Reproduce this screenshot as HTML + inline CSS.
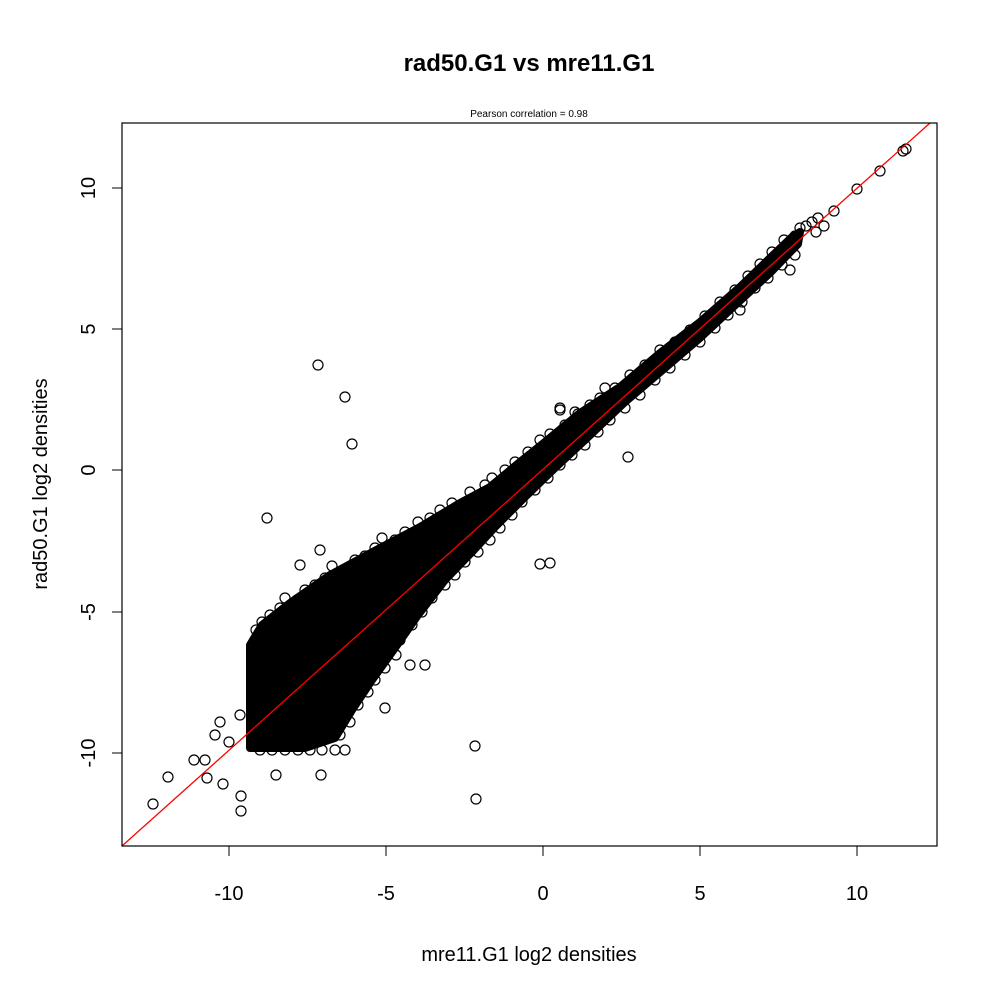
<!DOCTYPE html>
<html><head><meta charset="utf-8"><style>
html,body{margin:0;padding:0;background:#fff;}
svg{display:block;font-family:"Liberation Sans",sans-serif;}
</style></head><body>
<svg width="1000" height="1000" xmlns="http://www.w3.org/2000/svg">
<rect width="1000" height="1000" fill="#fff"/>
<text x="529" y="71" text-anchor="middle" font-size="24" font-weight="bold">rad50.G1 vs mre11.G1</text>
<text x="529" y="117" text-anchor="middle" font-size="10">Pearson correlation =  0.98</text>
<defs><clipPath id="c"><rect x="122" y="123" width="815" height="723"/></clipPath></defs>
<g clip-path="url(#c)">
<polygon fill="#000" stroke="#000" stroke-width="8" stroke-linejoin="round" points="250,645 262,625 290,603 330,575 380,548 420,527 460,503 490,487 520,462 545,442 580,413 620,387 660,353 700,322 740,287 770,258 792,237 800,232 798,244 770,273 730,310 700,338 665,368 625,402 585,440 555,468 525,497 495,527 472,552 445,580 418,615 395,648 372,680 352,710 335,738 305,748 270,748 250,748"/>
<g fill="none" stroke="#000" stroke-width="1.2">
<circle cx="255" cy="640" r="5"/><circle cx="256" cy="630" r="5"/><circle cx="262" cy="622" r="5"/><circle cx="270" cy="615" r="5"/><circle cx="280" cy="608" r="5"/><circle cx="285" cy="598" r="5"/><circle cx="297" cy="600" r="5"/><circle cx="305" cy="590" r="5"/><circle cx="315" cy="585" r="5"/><circle cx="325" cy="578" r="5"/><circle cx="332" cy="566" r="5"/><circle cx="345" cy="570" r="5"/><circle cx="355" cy="560" r="5"/><circle cx="365" cy="556" r="5"/><circle cx="375" cy="548" r="5"/><circle cx="382" cy="538" r="5"/><circle cx="395" cy="540" r="5"/><circle cx="405" cy="532" r="5"/><circle cx="418" cy="522" r="5"/><circle cx="430" cy="518" r="5"/><circle cx="440" cy="510" r="5"/><circle cx="452" cy="503" r="5"/><circle cx="463" cy="505" r="5"/><circle cx="470" cy="492" r="5"/><circle cx="485" cy="485" r="5"/><circle cx="492" cy="478" r="5"/><circle cx="505" cy="470" r="5"/><circle cx="515" cy="462" r="5"/><circle cx="528" cy="452" r="5"/><circle cx="540" cy="440" r="5"/><circle cx="550" cy="434" r="5"/><circle cx="560" cy="410" r="5"/><circle cx="565" cy="425" r="5"/><circle cx="578" cy="414" r="5"/><circle cx="590" cy="405" r="5"/><circle cx="600" cy="398" r="5"/><circle cx="605" cy="388" r="5"/><circle cx="615" cy="388" r="5"/><circle cx="630" cy="375" r="5"/><circle cx="645" cy="365" r="5"/><circle cx="660" cy="350" r="5"/><circle cx="675" cy="342" r="5"/><circle cx="690" cy="330" r="5"/><circle cx="705" cy="316" r="5"/><circle cx="720" cy="302" r="5"/><circle cx="735" cy="290" r="5"/><circle cx="748" cy="276" r="5"/><circle cx="760" cy="264" r="5"/><circle cx="772" cy="252" r="5"/><circle cx="784" cy="240" r="5"/><circle cx="795" cy="236" r="5"/>
<circle cx="252" cy="655" r="5"/><circle cx="252" cy="670" r="5"/><circle cx="252" cy="685" r="5"/><circle cx="252" cy="700" r="5"/><circle cx="252" cy="715" r="5"/><circle cx="252" cy="730" r="5"/><circle cx="252" cy="745" r="5"/>
<circle cx="260" cy="750" r="5"/><circle cx="272" cy="750" r="5"/><circle cx="285" cy="750" r="5"/><circle cx="298" cy="750" r="5"/><circle cx="310" cy="750" r="5"/><circle cx="322" cy="750" r="5"/><circle cx="335" cy="750" r="5"/><circle cx="345" cy="750" r="5"/><circle cx="340" cy="735" r="5"/><circle cx="350" cy="722" r="5"/><circle cx="358" cy="705" r="5"/><circle cx="368" cy="692" r="5"/><circle cx="375" cy="680" r="5"/><circle cx="385" cy="668" r="5"/><circle cx="396" cy="655" r="5"/><circle cx="400" cy="640" r="5"/><circle cx="412" cy="625" r="5"/><circle cx="422" cy="612" r="5"/><circle cx="432" cy="598" r="5"/><circle cx="445" cy="585" r="5"/><circle cx="455" cy="575" r="5"/><circle cx="465" cy="562" r="5"/><circle cx="478" cy="552" r="5"/><circle cx="490" cy="540" r="5"/><circle cx="500" cy="528" r="5"/><circle cx="512" cy="515" r="5"/><circle cx="522" cy="502" r="5"/><circle cx="535" cy="490" r="5"/><circle cx="548" cy="478" r="5"/><circle cx="560" cy="465" r="5"/><circle cx="572" cy="455" r="5"/><circle cx="585" cy="445" r="5"/><circle cx="598" cy="432" r="5"/><circle cx="610" cy="420" r="5"/><circle cx="625" cy="408" r="5"/><circle cx="640" cy="395" r="5"/><circle cx="655" cy="380" r="5"/><circle cx="670" cy="368" r="5"/><circle cx="685" cy="355" r="5"/><circle cx="700" cy="342" r="5"/><circle cx="715" cy="328" r="5"/><circle cx="728" cy="315" r="5"/><circle cx="742" cy="302" r="5"/><circle cx="755" cy="288" r="5"/><circle cx="768" cy="278" r="5"/><circle cx="782" cy="265" r="5"/><circle cx="795" cy="255" r="5"/>
<circle cx="800" cy="228" r="5"/><circle cx="806" cy="226" r="5"/><circle cx="812" cy="222" r="5"/><circle cx="818" cy="218" r="5"/><circle cx="824" cy="226" r="5"/><circle cx="816" cy="232" r="5"/>
<circle cx="318" cy="365" r="5"/><circle cx="345" cy="397" r="5"/><circle cx="352" cy="444" r="5"/><circle cx="267" cy="518" r="5"/><circle cx="475" cy="746" r="5"/><circle cx="476" cy="799" r="5"/><circle cx="153" cy="804" r="5"/><circle cx="168" cy="777" r="5"/><circle cx="241" cy="811" r="5"/><circle cx="241" cy="796" r="5"/><circle cx="223" cy="784" r="5"/><circle cx="207" cy="778" r="5"/><circle cx="194" cy="760" r="5"/><circle cx="205" cy="760" r="5"/><circle cx="220" cy="722" r="5"/><circle cx="229" cy="742" r="5"/><circle cx="215" cy="735" r="5"/><circle cx="240" cy="715" r="5"/><circle cx="276" cy="775" r="5"/><circle cx="321" cy="775" r="5"/><circle cx="540" cy="564" r="5"/><circle cx="550" cy="563" r="5"/><circle cx="906" cy="149" r="5"/><circle cx="903" cy="151" r="5"/><circle cx="880" cy="171" r="5"/><circle cx="857" cy="189" r="5"/><circle cx="834" cy="211" r="5"/><circle cx="560" cy="408" r="5"/><circle cx="628" cy="457" r="5"/><circle cx="410" cy="665" r="5"/><circle cx="425" cy="665" r="5"/><circle cx="385" cy="708" r="5"/><circle cx="300" cy="565" r="5"/><circle cx="320" cy="550" r="5"/><circle cx="380" cy="552" r="5"/><circle cx="575" cy="412" r="5"/><circle cx="790" cy="270" r="5"/><circle cx="740" cy="310" r="5"/>
</g>
</g>
<line x1="122" y1="846" x2="930" y2="123" stroke="#f00" stroke-width="1.3" clip-path="url(#c)"/>
<rect x="122" y="123" width="815" height="723" fill="none" stroke="#000" stroke-width="1.2"/>
<g stroke="#000" stroke-width="1">
<line x1="229" y1="846" x2="857" y2="846"/>
<line x1="229" y1="846" x2="229" y2="856"/><line x1="386" y1="846" x2="386" y2="856"/>
<line x1="543" y1="846" x2="543" y2="856"/><line x1="700" y1="846" x2="700" y2="856"/>
<line x1="857" y1="846" x2="857" y2="856"/>
<line x1="122" y1="188" x2="122" y2="753"/>
<line x1="112" y1="188" x2="122" y2="188"/><line x1="112" y1="329" x2="122" y2="329"/>
<line x1="112" y1="470" x2="122" y2="470"/><line x1="112" y1="612" x2="122" y2="612"/>
<line x1="112" y1="753" x2="122" y2="753"/>
</g>
<g font-size="20" text-anchor="middle">
<text x="229" y="900">-10</text><text x="386" y="900">-5</text><text x="543" y="900">0</text>
<text x="700" y="900">5</text><text x="857" y="900">10</text>
<text transform="translate(95,188) rotate(-90)">10</text>
<text transform="translate(95,329) rotate(-90)">5</text>
<text transform="translate(95,470) rotate(-90)">0</text>
<text transform="translate(95,612) rotate(-90)">-5</text>
<text transform="translate(95,753) rotate(-90)">-10</text>
<text x="529" y="961">mre11.G1 log2 densities</text>
<text transform="translate(47,484) rotate(-90)">rad50.G1 log2 densities</text>
</g>
</svg>
</body></html>
